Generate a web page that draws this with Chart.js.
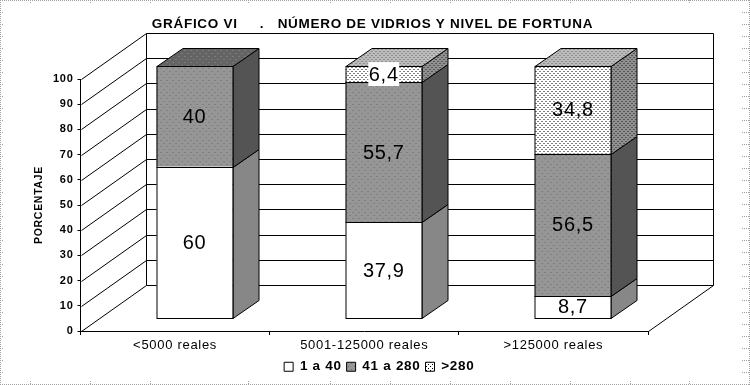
<!DOCTYPE html>
<html lang="es">
<head>
<meta charset="utf-8">
<title>Gráfico VI</title>
<script src="https://cdn.jsdelivr.net/npm/chart.js@4/dist/chart.umd.min.js"></script>
<style>
  html, body { margin: 0; padding: 0; background: #fff; }
  canvas { display: block; }
</style>
</head>
<body>
<canvas id="chart" width="750" height="385"></canvas>
<script>
// Values
const categories = ['<5000 reales', '5001-125000 reales', '>125000 reales'];
const seriesNames = ['1 a 40', '41 a 280', '>280'];
const lowCounts = [60, 37.9, 8.7];
const midCounts = [40, 55.7, 56.5];
const highCounts = [null, 6.4, 34.8];
const boxedLabels = ['6,4'];

const chartTitle = 'GRÁFICO VI     .   NÚMERO DE VIDRIOS Y NIVEL DE FORTUNA';
const axisTitle = 'PORCENTAJE';
const FONT = "'Liberation Sans', Arial, sans-serif";

// Oblique depth of the box and of the bars, in pixels
const WALL_DX = 65, WALL_DY = 46;
const BAR_SHIFT_X = 19.5, BAR_SHIFT_Y = 13;
const BAR_DX = 26, BAR_DY = 18;

function makePattern(size, bg, dot, cells) {
  const tile = document.createElement('canvas');
  tile.width = size;
  tile.height = size;
  const c = tile.getContext('2d');
  c.fillStyle = bg;
  c.fillRect(0, 0, size, size);
  c.fillStyle = dot;
  cells.forEach(p => c.fillRect(p[0], p[1], 1, 1));
  return c.createPattern(tile, 'repeat');
}

const checker = [[0, 0], [1, 1]];
const sparse = [[0, 0], [3, 3]];
const dense = [[0, 0], [2, 2]];

const fronts = ['#ffffff', makePattern(6, '#969696', '#6e6e6e', sparse), makePattern(4, '#ffffff', '#000000', dense)];
const sides = [makePattern(2, '#666666', '#a8a8a8', checker), makePattern(2, '#303030', '#787878', checker), makePattern(4, '#909090', '#202020', dense)];
const tops = [null, makePattern(6, '#646464', '#909090', sparse), makePattern(4, '#bcbcbc', '#606060', dense)];

function formatValue(v) {
  return String(v).replace('.', ',');
}

function quad(ctx, pts, fill) {
  ctx.beginPath();
  ctx.moveTo(pts[0][0], pts[0][1]);
  pts.slice(1).forEach(p => ctx.lineTo(p[0], p[1]));
  ctx.closePath();
  ctx.fillStyle = fill;
  ctx.fill();
  ctx.stroke();
}

// Grey ruler marks round the sheet
const sheetFrame = {
  id: 'sheetFrame',
  afterLayout(chart) {
    // title and legend are centred on the sheet, not on the plot
    chart.titleBlock.left = 0;
    chart.titleBlock.right = 745;
    chart.legend.left = 0;
    chart.legend.right = 746;
  },
  beforeDraw(chart) {
    const ctx = chart.ctx;
    ctx.letterSpacing = '0.7px';
    ctx.save();
    ctx.fillStyle = '#ffffff';
    ctx.fillRect(0, 0, 750, 385);
    ctx.strokeStyle = '#a0a0a0';
    ctx.lineWidth = 1;
    ctx.setLineDash([1, 1]);
    ctx.beginPath();
    ctx.moveTo(0, 0.5); ctx.lineTo(750, 0.5);
    ctx.moveTo(0, 384.5); ctx.lineTo(750, 384.5);
    ctx.moveTo(0.5, 0); ctx.lineTo(0.5, 385);
    ctx.moveTo(749.5, 0); ctx.lineTo(749.5, 385);
    for (let y = 12; y < 380; y += 12) {
      ctx.moveTo(0, y + 0.5); ctx.lineTo(4, y + 0.5);
      ctx.moveTo(742, y + 0.5); ctx.lineTo(750, y + 0.5);
    }
    [30, 90, 150, 248, 330, 390, 450, 510, 570, 630, 689].forEach(x => {
      ctx.moveTo(x + 0.5, 0); ctx.lineTo(x + 0.5, 4);
      ctx.moveTo(x + 0.5, 381); ctx.lineTo(x + 0.5, 385);
    });
    ctx.stroke();
    ctx.restore();
  }
};

// Back wall, floor and the oblique faces of the bars
const depthBars = {
  id: 'depthBars',
  beforeDatasetsDraw(chart) {
    const ctx = chart.ctx;
    const yScale = chart.scales.y;
    const area = chart.chartArea;
    const left = Math.round(area.left) + 0.5;
    const right = Math.round(area.right) + 0.5;
    const bottom = Math.round(yScale.getPixelForValue(0)) + 0.5;

    ctx.save();
    ctx.strokeStyle = '#000000';
    ctx.lineWidth = 1;
    ctx.beginPath();
    yScale.ticks.forEach(t => {
      const y = Math.round(yScale.getPixelForValue(t.value)) + 0.5;
      ctx.moveTo(left, y);
      ctx.lineTo(left + WALL_DX, y - WALL_DY);
      ctx.lineTo(right + WALL_DX, y - WALL_DY);
    });
    const wallTop = Math.round(yScale.getPixelForValue(100)) + 0.5 - WALL_DY;
    ctx.moveTo(left + WALL_DX, wallTop);
    ctx.lineTo(left + WALL_DX, bottom - WALL_DY);
    ctx.moveTo(right + WALL_DX, wallTop);
    ctx.lineTo(right + WALL_DX, bottom - WALL_DY);
    ctx.lineTo(right, bottom);
    ctx.stroke();
    ctx.restore();

    // bars sit a little way into the box; this is undone in afterDatasetsDraw
    ctx.save();
    ctx.translate(BAR_SHIFT_X, -BAR_SHIFT_Y);
    ctx.strokeStyle = '#000000';
    ctx.lineWidth = 1;
    chart.data.labels.forEach((label, i) => {
      let lastSet = -1;
      chart.data.datasets.forEach((ds, d) => {
        if (ds.data[i] == null) return;
        lastSet = d;
        const bar = chart.getDatasetMeta(d).data[i];
        const edge = Math.round(bar.x + bar.width / 2) + 0.5;
        const top = Math.round(bar.y) + 0.5;
        const base = Math.round(bar.base) + 0.5;
        quad(ctx, [[edge, top], [edge + BAR_DX, top - BAR_DY], [edge + BAR_DX, base - BAR_DY], [edge, base]], sides[d]);
      });
      const bar = chart.getDatasetMeta(lastSet).data[i];
      const x0 = Math.round(bar.x - bar.width / 2) + 0.5;
      const x1 = Math.round(bar.x + bar.width / 2) + 0.5;
      const y = Math.round(bar.y) + 0.5;
      quad(ctx, [[x0, y], [x0 + BAR_DX, y - BAR_DY], [x1 + BAR_DX, y - BAR_DY], [x1, y]], tops[lastSet]);
    });
  },
  afterDatasetsDraw(chart) {
    const ctx = chart.ctx;
    ctx.font = '20px ' + FONT;
    ctx.textAlign = 'center';
    ctx.textBaseline = 'middle';
    chart.data.datasets.forEach((ds, d) => {
      chart.getDatasetMeta(d).data.forEach((bar, i) => {
        if (ds.data[i] == null) return;
        // crisp front outline, the fill has no border of its own
        const x0 = Math.round(bar.x - bar.width / 2) + 0.5;
        const x1 = Math.round(bar.x + bar.width / 2) + 0.5;
        const top = Math.round(bar.y) + 0.5;
        const base = Math.round(bar.base) + 0.5;
        ctx.strokeStyle = '#000000';
        ctx.lineWidth = 1;
        ctx.strokeRect(x0, top, x1 - x0, base - top);

        const text = formatValue(ds.data[i]);
        const y = (bar.y + bar.base) / 2;
        if (boxedLabels.includes(text)) {
          const w = ctx.measureText(text).width + 1;
          ctx.fillStyle = '#ffffff';
          ctx.fillRect(bar.x - w / 2, y - 12, w, 24);
        }
        ctx.fillStyle = '#000000';
        ctx.fillText(text, bar.x, y + 1);
      });
    });
    ctx.restore();
  }
};

const datasets = [lowCounts, midCounts, highCounts].map((values, i) => ({
  label: seriesNames[i],
  data: values,
  backgroundColor: fronts[i],
  borderWidth: 0,
  barPercentage: 1,
  categoryPercentage: 0.402,
  clip: false
}));

new Chart(document.getElementById('chart').getContext('2d'), {
  type: 'bar',
  data: { labels: categories, datasets: datasets },
  plugins: [sheetFrame, depthBars],
  options: {
    responsive: false,
    animation: false,
    layout: { padding: { left: 30, right: 102, top: 0, bottom: 1.5 } },
    plugins: {
      tooltip: { enabled: false },
      title: {
        display: true,
        text: chartTitle,
        color: '#000000',
        font: { family: FONT, size: 13.5, weight: 'bold' },
        padding: { top: 16, bottom: 46.8 }
      },
      legend: {
        position: 'bottom',
        labels: {
          color: '#000000',
          font: { family: FONT, size: 13.5, weight: 'bold' },
          boxWidth: 9,
          boxHeight: 9,
          padding: 5,
          generateLabels(chart) {
            return Chart.defaults.plugins.legend.labels.generateLabels(chart).map(item => ({
              ...item,
              lineWidth: 1,
              strokeStyle: '#000000'
            }));
          }
        }
      }
    },
    scales: {
      x: {
        stacked: true,
        afterFit(scale) { scale.height = 24; },
        border: { color: '#000000' },
        grid: { drawOnChartArea: false, color: '#000000', tickLength: 4 },
        ticks: { color: '#000000', padding: 3, maxRotation: 0, font: { family: FONT, size: 13 } }
      },
      y: {
        stacked: true,
        min: 0,
        max: 100,
        afterFit(scale) { scale.width = 50.5; },
        border: { color: '#000000' },
        grid: { drawOnChartArea: false, color: '#000000', tickLength: 3 },
        ticks: { stepSize: 10, color: '#000000', padding: 4, font: { family: FONT, size: 11, weight: 'bold' } },
        title: {
          display: true,
          text: axisTitle,
          color: '#000000',
          padding: { top: 3, bottom: 0 },
          font: { family: FONT, size: 10.5, weight: 'bold' }
        }
      }
    }
  }
});
</script>
</body>
</html>
